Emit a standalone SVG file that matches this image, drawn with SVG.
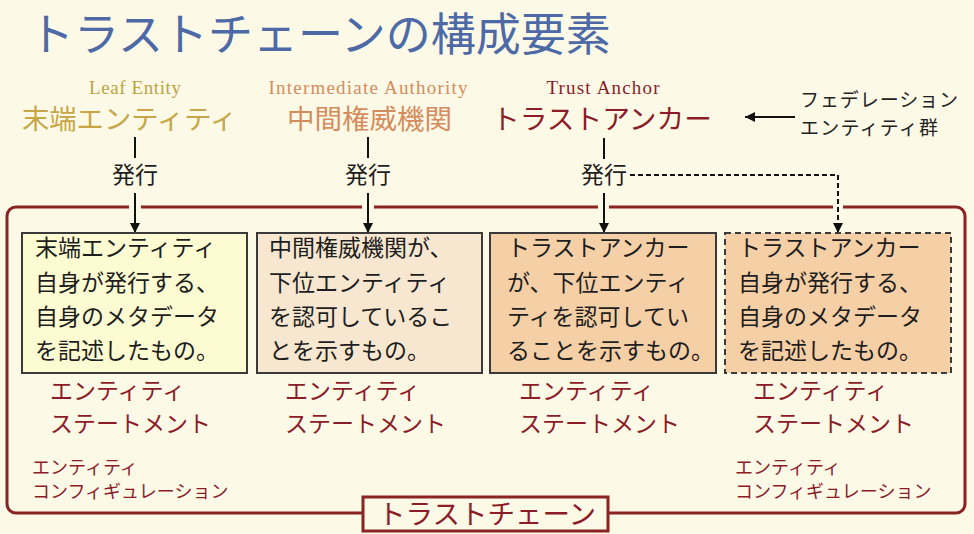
<svg xmlns="http://www.w3.org/2000/svg" width="974" height="534" viewBox="0 0 974 534">
  <defs>
    <style>
      .jp { font-family: "Noto Sans CJK JP", "Noto Sans CJK SC", sans-serif; }
      .en { font-family: "Liberation Serif", "Noto Serif", serif; }
      .body { font-size: 23px; fill: #1e1e1e; }
      .stmt { font-size: 23px; fill: #8b1c28; }
      .conf { font-size: 18px; fill: #8b1c28; }
      .box { stroke: #3a3a3a; stroke-width: 2; }
      .line { stroke: #111; stroke-width: 2; fill: none; }
    </style>
    <marker id="ah" viewBox="0 0 10 10" refX="10" refY="5" markerWidth="10" markerHeight="10" markerUnits="userSpaceOnUse" orient="auto">
      <path d="M0,0 L10,5 L0,10 Z" fill="#111"/>
    </marker>
  </defs>
  <rect width="974" height="534" fill="#fdf9e7"/>

  <text id="title" class="jp" x="29" y="51" font-size="45" fill="#4d6aa6">トラストチェーンの構成要素</text>

  <g id="frame">
    <path d="M129,207 H16 A9,9 0 0 0 7,216 V504 A9,9 0 0 0 16,513 H363 M608,513 H956 A9,9 0 0 0 965,504 V216 A9,9 0 0 0 956,207 H843 M833,207 H609 M598,207 H374 M362,207 H141" fill="none" stroke="#8b2323" stroke-width="3"/>
  </g>

  <g id="leaf-heading">
    <text class="en" x="135" y="94" font-size="19" fill="#bfa440" text-anchor="middle" textLength="92">Leaf Entity</text>
    <text class="jp" x="22" y="129" font-size="27.3" fill="#c6a646">末端エンティティ</text>
  </g>
  <g id="intermediate-heading">
    <text class="en" x="368" y="94" font-size="19" fill="#d48c5c" text-anchor="middle" textLength="199">Intermediate Authority</text>
    <text class="jp" x="287" y="129" font-size="27.5" fill="#d48c5c">中間権威機関</text>
  </g>
  <g id="anchor-heading">
    <text class="en" x="603" y="94" font-size="19" fill="#8b1c28" text-anchor="middle" textLength="113">Trust Anchor</text>
    <text class="jp" x="492" y="129" font-size="27.7" fill="#8b1c28">トラストアンカー</text>
  </g>
  <g id="federation">
    <text class="jp" x="800" y="107" font-size="19" fill="#222" textLength="158">フェデレーション</text>
    <text class="jp" x="800" y="135" font-size="19" fill="#222" textLength="138">エンティティ群</text>
  </g>

  <g id="connectors">
    <line class="line" x1="795" y1="117" x2="745" y2="117" marker-end="url(#ah)"/>
    <line class="line" x1="135" y1="137" x2="135" y2="158"/>
    <line class="line" x1="135" y1="193" x2="135" y2="233" marker-end="url(#ah)"/>
    <line class="line" x1="368" y1="137" x2="368" y2="158"/>
    <line class="line" x1="368" y1="193" x2="368" y2="233" marker-end="url(#ah)"/>
    <line class="line" x1="604" y1="138" x2="604" y2="159"/>
    <line class="line" x1="604" y1="193" x2="604" y2="233" marker-end="url(#ah)"/>
    <path class="line" d="M630,175 H838 V233" stroke-dasharray="5,3" stroke-width="1.6" marker-end="url(#ah)"/>
  </g>
  <g id="issue-labels">
    <text class="jp" x="135" y="183" font-size="23" fill="#1e1e1e" text-anchor="middle">発行</text>
    <text class="jp" x="368" y="183" font-size="23" fill="#1e1e1e" text-anchor="middle">発行</text>
    <text class="jp" x="604" y="183" font-size="23" fill="#1e1e1e" text-anchor="middle">発行</text>
  </g>

  <g id="box-leaf">
    <rect class="box" x="22" y="233" width="225" height="140" fill="#fdfbd2"/>
    <text class="jp body" x="35" y="256">末端エンティティ</text>
    <text class="jp body" x="35" y="291">自身が発行する、</text>
    <text class="jp body" x="35" y="325">自身のメタデータ</text>
    <text class="jp body" x="35" y="359">を記述したもの。</text>
  </g>
  <g id="box-intermediate">
    <rect class="box" x="257" y="233" width="225" height="140" fill="#f7e7d0"/>
    <text class="jp body" x="269" y="256">中間権威機関が、</text>
    <text class="jp body" x="269" y="291">下位エンティティ</text>
    <text class="jp body" x="269" y="325">を認可しているこ</text>
    <text class="jp body" x="269" y="359">とを示すもの。</text>
  </g>
  <g id="box-anchor">
    <rect class="box" x="490" y="233" width="226" height="140" fill="#f5cfa6"/>
    <text class="jp body" x="507" y="256">トラストアンカー</text>
    <text class="jp body" x="507" y="291">が、下位エンティ</text>
    <text class="jp body" x="507" y="325">ティを認可してい</text>
    <text class="jp body" x="507" y="359">ることを示すもの。</text>
  </g>
  <g id="box-anchor-self">
    <rect class="box" x="725" y="233" width="226" height="140" fill="#f5cfa6" stroke-dasharray="6,4"/>
    <text class="jp body" x="738" y="256">トラストアンカー</text>
    <text class="jp body" x="738" y="291">自身が発行する、</text>
    <text class="jp body" x="738" y="325">自身のメタデータ</text>
    <text class="jp body" x="738" y="359">を記述したもの。</text>
  </g>

  <g id="statements">
    <text class="jp stmt" x="50" y="399">エンティティ</text>
    <text class="jp stmt" x="50" y="432">ステートメント</text>
    <text class="jp stmt" x="285" y="399">エンティティ</text>
    <text class="jp stmt" x="285" y="432">ステートメント</text>
    <text class="jp stmt" x="519" y="399">エンティティ</text>
    <text class="jp stmt" x="519" y="432">ステートメント</text>
    <text class="jp stmt" x="753" y="399">エンティティ</text>
    <text class="jp stmt" x="753" y="432">ステートメント</text>
  </g>
  <g id="configurations">
    <text class="jp conf" x="32" y="474">エンティティ</text>
    <text class="jp conf" x="32" y="498">コンフィギュレーション</text>
    <text class="jp conf" x="735" y="474">エンティティ</text>
    <text class="jp conf" x="735" y="498">コンフィギュレーション</text>
  </g>

  <g id="chain-label">
    <rect x="363" y="497" width="245" height="34" fill="#fdf9e7" stroke="#8b2323" stroke-width="3"/>
    <text class="jp" x="378" y="524" font-size="27.5" fill="#8b1c28">トラストチェーン</text>
  </g>
</svg>
